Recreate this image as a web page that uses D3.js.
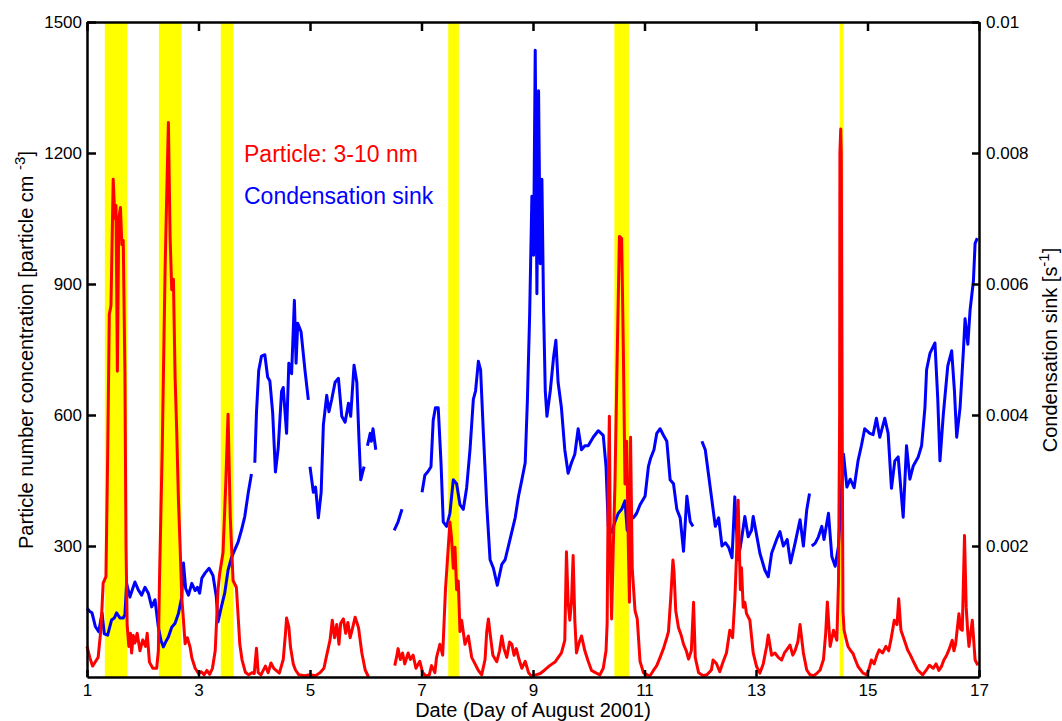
<!DOCTYPE html>
<html>
<head>
<meta charset="utf-8">
<script src="https://cdn.jsdelivr.net/npm/d3@7"></script>
<style>
  body { margin: 0; background: #fff; }
  text { font-family: "Liberation Sans", Arial, sans-serif; }
</style>
</head>
<body>
<svg id="chart" width="1062" height="721"></svg>
<script>
// particle 3-10 nm concentration (particle cm-3), null = no data
var particleDays = [1.00,1.05,1.10,1.15,1.20,1.25,1.29,1.34,1.37,1.40,1.43,1.47,1.50,1.52,1.545,1.57,1.60,1.625,1.65,1.68,1.70,1.72,1.75,1.78,1.80,1.83,1.86,1.90,1.95,2.00,2.05,2.08,2.12,2.18,2.25,2.28,2.30,2.35,2.40,2.43,2.46,2.49,2.52,2.55,2.58,2.61,2.64,2.67,2.70,2.73,2.76,2.80,2.85,2.88,2.94,3.00,3.05,3.10,3.15,3.20,3.25,3.30,3.35,3.38,3.44,3.49,3.53,3.57,3.62,3.68,3.72,3.74,3.78,3.84,3.90,3.96,4.00,4.04,4.07,4.12,4.20,4.25,4.30,4.35,4.45,4.52,4.56,4.58,4.62,4.65,4.70,4.74,4.80,4.90,5.00,5.10,5.18,5.25,5.30,5.36,5.40,5.44,5.48,5.52,5.55,5.60,5.64,5.68,5.72,5.76,5.81,5.87,5.93,5.99,6.05,6.10,
  6.52,6.56,6.58,6.62,6.66,6.70,6.76,6.80,6.85,6.90,6.97,7.02,7.08,7.14,7.18,7.24,7.27,7.33,7.38,7.43,7.48,7.51,7.54,7.57,7.60,7.63,7.66,7.69,7.72,7.78,7.84,7.90,7.96,8.02,8.08,8.14,8.17,8.20,8.23,8.28,8.35,8.40,8.44,8.48,8.53,8.58,8.62,8.66,8.70,8.75,8.80,8.86,8.92,8.97,9.05,9.13,9.20,9.30,9.40,9.51,9.57,9.60,9.63,9.66,9.69,9.72,9.75,9.78,9.83,9.87,9.93,9.99,10.05,10.12,10.20,10.26,10.31,10.33,10.35,10.37,10.39,10.41,10.44,10.47,10.51,10.55,10.59,10.62,10.65,10.68,10.71,10.73,10.75,10.78,10.83,10.87,10.92,10.98,11.05,11.10,11.16,11.22,11.28,11.34,11.40,11.43,11.47,11.51,11.53,11.56,11.61,11.66,11.70,11.75,11.79,11.84,11.88,11.91,11.97,12.05,12.12,12.20,12.23,12.29,12.35,12.41,12.47,12.53,12.58,12.62,12.65,12.68,12.70,12.72,12.74,12.77,12.80,12.83,12.89,12.95,13.01,13.07,13.13,13.19,13.22,13.28,13.34,13.40,13.46,13.51,13.55,13.61,13.66,13.70,13.75,13.79,13.85,13.91,13.97,14.03,14.09,14.15,14.21,14.25,14.28,14.33,14.39,14.45,14.48,14.50,14.505,14.52,14.53,14.545,14.56,14.58,14.61,14.65,14.70,14.74,14.78,14.83,14.92,14.99,15.03,15.07,15.12,15.17,15.21,15.27,15.33,15.38,15.42,15.48,15.53,15.56,15.60,15.66,15.72,15.77,15.81,15.90,15.99,16.05,16.11,16.18,16.23,16.28,16.33,16.37,16.42,16.46,16.52,16.55,16.58,16.64,16.67,16.70,16.74,16.77,16.80,16.82,16.85,16.88,16.93,16.98];
var particleConc = [70,45,25,35,45,110,215,230,500,830,850,1140,1050,1080,700,1050,1075,990,1000,700,300,120,70,100,55,95,78,100,60,85,70,100,34,20,20,60,220,526,927,1104,1270,1008,887,911,687,560,405,300,181,130,76,90,68,44,20,8,12,5,15,6,20,60,200,237,285,446,602,365,221,205,120,76,40,11,5,10,8,66,10,5,25,10,32,20,9,40,100,135,115,69,30,16,5,3,5,3,10,20,50,85,130,90,120,75,123,133,100,125,90,110,137,113,55,16,0,null,
  26,50,65,40,55,30,55,40,50,20,36,10,2,5,26,10,45,75,50,200,297,355,316,249,297,200,220,104,130,75,94,45,30,15,5,40,104,133,100,50,35,60,94,65,45,80,75,50,65,40,20,36,10,2,5,8,15,26,35,55,84,287,171,130,171,278,130,55,80,94,60,36,15,10,5,20,60,123,442,597,249,133,297,442,733,1009,1004,752,442,540,300,171,549,249,152,133,36,10,5,3,15,26,45,65,90,104,180,268,240,152,113,95,75,60,41,60,171,45,10,3,5,16,39,31,12,35,55,107,90,176,275,405,300,200,250,160,171,145,130,55,24,9,30,70,96,50,55,45,39,55,62,73,50,60,80,120,55,16,5,3,8,16,40,100,172,70,107,84,219,600,1200,1255,1200,600,150,107,90,70,60,54,40,24,9,5,20,39,30,50,62,55,70,60,85,130,120,179,107,85,62,50,39,16,5,15,27,20,30,15,25,39,50,62,84,60,75,145,110,107,324,160,100,70,100,130,39,27];

// condensation sink (s-1), null = no data
var sinkDays = [1.00,1.05,1.09,1.15,1.21,1.27,1.31,1.37,1.44,1.49,1.53,1.59,1.65,1.68,1.71,1.77,1.82,1.86,1.92,1.98,2.04,2.10,2.16,2.22,2.28,2.33,2.37,2.42,2.46,2.52,2.58,2.64,2.70,2.73,2.77,2.82,2.88,2.94,2.98,3.02,3.06,3.12,3.19,3.26,3.32,3.35,3.41,3.47,3.53,3.59,3.65,3.71,3.77,3.83,3.89,3.95,3.97,
  4.01,4.04,4.08,4.13,4.19,4.24,4.28,4.33,4.38,4.43,4.49,4.52,4.58,4.62,4.67,4.72,4.75,4.78,4.84,4.91,4.97,4.99,
  5.00,5.06,5.10,5.15,5.20,5.24,5.30,5.34,5.39,5.45,5.51,5.57,5.63,5.69,5.73,5.79,5.84,5.88,5.91,5.97,5.99,
  6.03,6.08,6.10,6.13,6.18,6.30,6.51,6.58,6.65,6.80,
  7.01,7.06,7.12,7.17,7.21,7.25,7.30,7.35,7.39,7.45,7.51,7.57,7.63,7.69,7.75,7.81,7.87,7.93,7.97,8.02,8.06,8.11,8.17,8.23,8.29,8.36,8.44,8.50,8.59,8.68,8.74,8.80,8.86,8.90,8.94,8.98,9.01,9.04,9.07,9.10,9.13,9.16,9.19,9.22,9.25,9.31,9.37,9.41,9.45,9.51,9.57,9.63,9.69,9.75,9.81,9.87,9.93,9.99,10.08,10.17,10.26,10.31,10.35,10.41,10.47,10.53,10.59,10.65,10.69,10.74,10.80,10.86,10.92,11.01,11.07,11.11,11.17,11.22,11.28,11.34,11.40,11.46,11.52,11.58,11.64,11.70,11.76,11.82,11.87,11.95,
  12.03,12.09,12.15,12.21,12.27,12.33,12.39,12.45,12.51,12.57,12.62,12.68,12.74,12.80,12.86,12.92,12.95,13.01,13.07,13.16,13.22,13.28,13.37,13.43,13.49,13.56,13.62,13.70,13.79,13.85,13.91,13.96,13.98,
  14.00,14.06,14.12,14.18,14.22,14.30,14.36,14.42,14.48,14.54,14.57,14.63,14.69,14.76,14.83,14.89,14.95,15.04,15.10,15.16,15.22,15.31,15.37,15.43,15.49,15.55,15.64,15.70,15.76,15.82,15.91,15.97,16.03,16.06,16.12,16.21,16.26,16.30,16.36,16.44,16.51,16.56,16.60,16.66,16.72,16.75,16.80,16.84,16.90,16.93,16.97];
var sinkValues = [0.00105,0.00100,0.00098,0.00077,0.00069,0.00098,0.00066,0.00064,0.00087,0.00090,0.00098,0.00090,0.00090,0.00095,0.00143,0.00122,0.00135,0.00145,0.00133,0.00125,0.00137,0.00128,0.00107,0.00118,0.00076,0.00055,0.00046,0.00055,0.00061,0.00076,0.00082,0.00097,0.00122,0.00174,0.00135,0.00125,0.00143,0.00132,0.00137,0.00128,0.00151,0.00159,0.00166,0.00155,0.00122,0.00084,0.00107,0.00128,0.00163,0.00182,0.00194,0.00206,0.00224,0.00245,0.00280,0.00310,null,
  0.00327,0.00404,0.00468,0.00490,0.00492,0.00458,0.00452,0.00404,0.00313,0.00350,0.00436,0.00442,0.00372,0.00479,0.00463,0.00575,0.00479,0.00540,0.00527,0.00468,0.00423,null,
  0.00321,0.00282,0.00290,0.00243,0.00282,0.00385,0.00430,0.00405,0.00424,0.00450,0.00456,0.00398,0.00389,0.00418,0.00398,0.00476,0.00450,0.00360,0.00301,0.00321,null,
  0.00353,0.00372,0.00360,0.00379,0.00347,null,0.00224,0.00237,0.00256,null,
  0.00282,0.00308,0.00314,0.00321,0.00392,0.00411,0.00411,0.00327,0.00237,0.00230,0.00250,0.00301,0.00295,0.00263,0.00256,0.00289,0.00347,0.00424,0.00437,0.00482,0.00469,0.00372,0.00263,0.00179,0.00166,0.00140,0.00172,0.00179,0.00211,0.00243,0.00276,0.00301,0.00327,0.00424,0.00553,0.00734,0.00644,0.00957,0.00585,0.00895,0.00631,0.00760,0.00560,0.00437,0.00398,0.00437,0.00489,0.00514,0.00450,0.00411,0.00347,0.00311,0.00327,0.00340,0.00379,0.00347,0.00353,0.00353,0.00366,0.00376,0.00369,0.00321,0.00230,0.00221,0.00237,0.00250,0.00256,0.00269,0.00224,0.00243,0.00243,0.00250,0.00263,0.00276,0.00321,0.00334,0.00347,0.00372,0.00379,0.00369,0.00360,0.00301,0.00295,0.00256,0.00243,0.00192,0.00276,0.00237,0.00230,null,
  0.00360,0.00347,0.00308,0.00269,0.00230,0.00243,0.00200,0.00205,0.00198,0.00182,0.00275,0.00179,0.00210,0.00245,0.00214,0.00224,0.00245,0.00217,0.00189,0.00163,0.00153,0.00189,0.00210,0.00222,0.00200,0.00210,0.00174,0.00204,0.00240,0.00200,0.00255,0.00280,null,
  0.00200,0.00204,0.00214,0.00230,0.00210,0.00250,0.00184,0.00169,0.00200,0.00295,0.00340,0.00290,0.00302,0.00289,0.00330,0.00353,0.00379,0.00372,0.00370,0.00395,0.00366,0.00395,0.00372,0.00288,0.00330,0.00336,0.00244,0.00353,0.00302,0.00322,0.00336,0.00353,0.00411,0.00469,0.00494,0.00510,0.00425,0.00330,0.00401,0.00475,0.00498,0.00436,0.00366,0.00411,0.00498,0.00547,0.00508,0.00560,0.00605,0.00662,0.00670];

// nucleation event periods (yellow bands), in days
var bandStart = [1.32, 2.29, 3.40, 7.48, 10.46, 14.50];
var bandEnd = [1.72, 2.69, 3.63, 7.67, 10.72, 14.57];

var xTicks = [1, 3, 5, 7, 9, 11, 13, 15, 17];
var leftTicks = [300, 600, 900, 1200, 1500];
var rightTicks = [0.002, 0.004, 0.006, 0.008, 0.01];

function chart() {
    var svg = d3.select('#chart');
    var plotLeft = 87, plotRight = 979, plotTop = 22, plotBottom = 677;

    var x = d3.scaleLinear().domain([1, 17]).range([plotLeft, plotRight]);
    var yLeft = d3.scaleLinear().domain([0, 1500]).range([plotBottom, plotTop]);
    var yRight = d3.scaleLinear().domain([0, 0.01]).range([plotBottom, plotTop]);

    var particle = particleDays.map((d, i) => ({day: d, v: particleConc[i]}));
    var sink = sinkDays.map((d, i) => ({day: d, v: sinkValues[i]}));

    // yellow bands behind everything
    svg.append('g')
        .selectAll('rect')
        .data(bandStart)
        .join('rect')
        .attr('x', d => x(d))
        .attr('width', (d, i) => x(bandEnd[i]) - x(d))
        .attr('y', plotTop)
        .attr('height', plotBottom - plotTop)
        .attr('fill', '#ffff00');

    var particleLine = d3.line()
        .defined(d => d.v != null)
        .x(d => x(d.day))
        .y(d => yLeft(d.v));

    var sinkLine = d3.line()
        .defined(d => d.v != null)
        .x(d => x(d.day))
        .y(d => yRight(d.v));

    svg.append('path')
        .datum(sink)
        .attr('fill', 'none')
        .attr('stroke', '#0000ff')
        .attr('stroke-width', 3)
        .attr('stroke-linejoin', 'round')
        .attr('d', sinkLine);

    svg.append('path')
        .datum(particle)
        .attr('fill', 'none')
        .attr('stroke', '#ff0000')
        .attr('stroke-width', 3)
        .attr('stroke-linejoin', 'round')
        .attr('d', particleLine);

    // axes, ticks pointing inward like matlab
    function styleAxis(g) {
        g.select('.domain').attr('stroke', '#000').attr('stroke-width', 2.5);
        g.selectAll('.tick line').attr('stroke', '#000').attr('stroke-width', 2.5);
        g.selectAll('.tick text').attr('fill', '#000').style('font-size', '17px')
            .style('font-family', '"Liberation Sans", Arial, sans-serif');
    }

    svg.append('g')
        .attr('transform', `translate(0,${plotBottom})`)
        .call(d3.axisBottom(x).tickValues(xTicks).tickFormat(d3.format('d')).tickSizeInner(-7).tickSizeOuter(0).tickPadding(7))
        .call(styleAxis);

    svg.append('g')
        .attr('transform', `translate(0,${plotTop})`)
        .call(d3.axisTop(x).tickValues(xTicks).tickFormat('').tickSizeInner(-9).tickSizeOuter(0))
        .call(styleAxis);

    svg.append('g')
        .attr('transform', `translate(${plotLeft},0)`)
        .call(d3.axisLeft(yLeft).tickValues(leftTicks).tickFormat(d3.format('d')).tickSizeInner(-9).tickSizeOuter(0).tickPadding(5))
        .call(styleAxis);

    svg.append('g')
        .attr('transform', `translate(${plotRight},0)`)
        .call(d3.axisRight(yRight).tickValues(rightTicks).tickFormat(d => String(+d.toFixed(3))).tickSizeInner(-7).tickSizeOuter(0).tickPadding(7))
        .call(styleAxis);

    // axis titles
    svg.append('text')
        .attr('x', (plotLeft + plotRight) / 2)
        .attr('y', 717)
        .attr('text-anchor', 'middle')
        .style('font-size', '20px')
        .text('Date (Day of August 2001)');

    var yl = svg.append('text')
        .attr('transform', 'translate(33,350) rotate(-90)')
        .attr('text-anchor', 'middle')
        .style('font-size', '20px');
    yl.append('tspan').text('Particle number concentration [particle cm ');
    yl.append('tspan').attr('dy', -8).style('font-size', '15px').text('-3');
    yl.append('tspan').attr('dy', 8).text(']');

    var yr = svg.append('text')
        .attr('transform', 'translate(1057,350) rotate(-90)')
        .attr('text-anchor', 'middle')
        .style('font-size', '20px');
    yr.append('tspan').text('Condensation sink [s');
    yr.append('tspan').attr('dy', -8).style('font-size', '15px').text('-1');
    yr.append('tspan').attr('dy', 8).text(']');

    // legend texts
    svg.append('text')
        .attr('x', 244)
        .attr('y', 162)
        .attr('fill', '#ff0000')
        .style('font-size', '23px')
        .text('Particle: 3-10 nm');

    svg.append('text')
        .attr('x', 244)
        .attr('y', 204)
        .attr('fill', '#0000ff')
        .style('font-size', '23px')
        .text('Condensation sink');
}
chart();
</script>
</body>
</html>
